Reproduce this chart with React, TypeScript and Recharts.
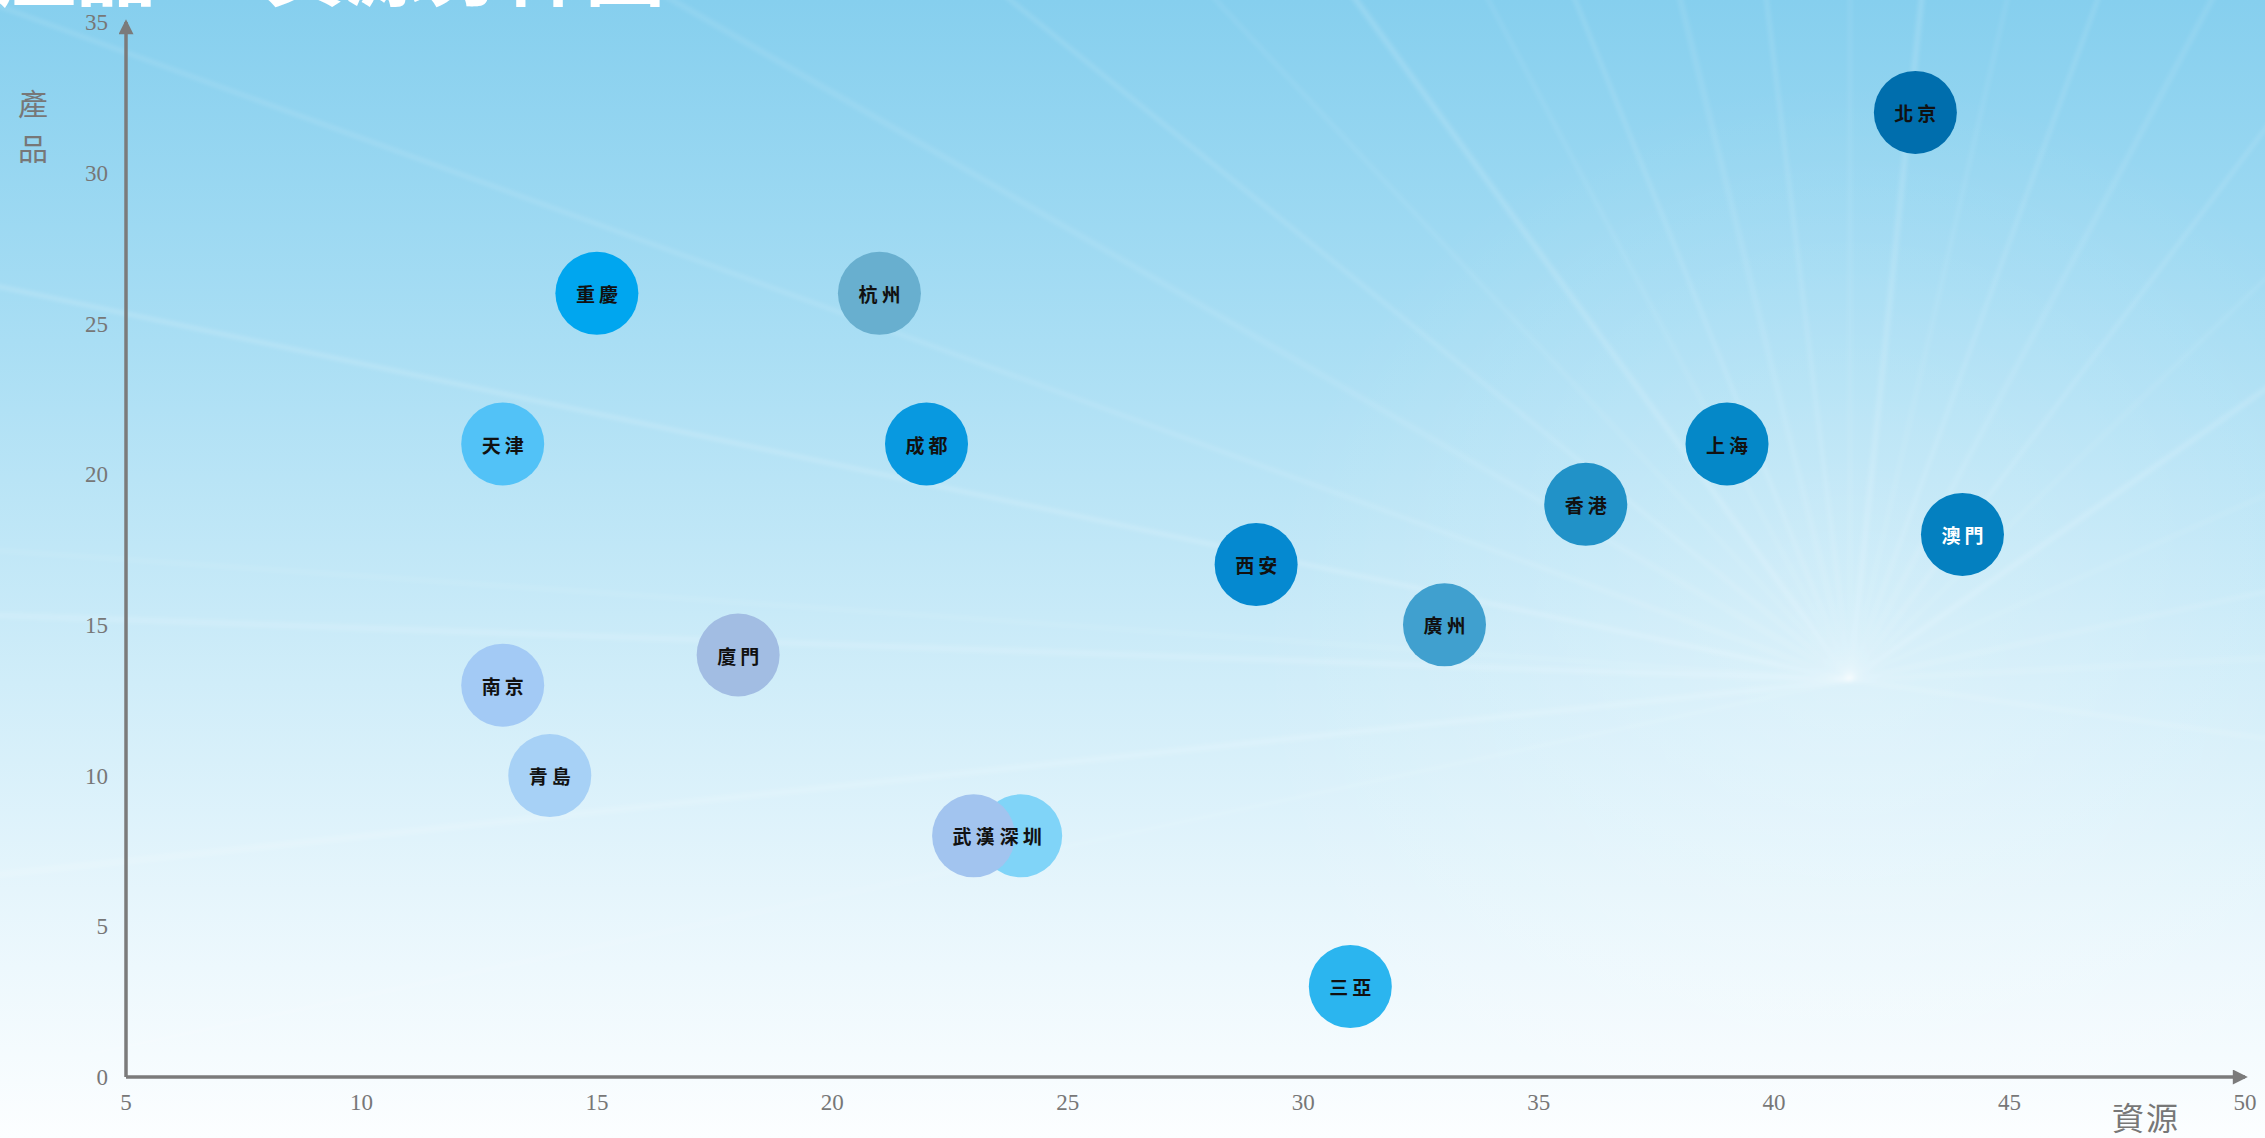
import { ScatterChart, Scatter, XAxis, YAxis, Cell } from "recharts";

// 城市 / 資源 (x) / 產品 (y)
const CITIES = ["北京", "重慶", "杭州", "天津", "成都", "上海", "香港", "澳門", "西安", "廣州", "廈門", "南京", "青島", "深圳", "武漢", "三亞"];
const RESOURCES = [43, 15, 21, 13, 22, 39, 36, 44, 29, 33, 18, 13, 14, 24, 23, 31];
const PRODUCTS = [32, 26, 26, 21, 21, 21, 19, 18, 17, 15, 14, 13, 10, 8, 8, 3];
const X_TICKS = [5, 10, 15, 20, 25, 30, 35, 40, 45, 50];
const Y_TICKS = [0, 5, 10, 15, 20, 25, 30, 35];

const COLORS = ["#006ead", "#00a6ef", "#68afcf", "#52c2f7", "#0899e0", "#0588c8", "#2192c8", "#0480c0", "#0589d0", "#40a0cf", "#a2bde3", "#a3caf5", "#a7d1f6", "#80d4f8", "#a2c4ef", "#2bb5ef"];
const WHITE_TEXT = ["澳門"];

// decorative light rays behind the plot
const RAY_ANGLES = [-178, -168, -160, -150, -141, -133, -126, -118, -112, -104, -97, -90, -84, -77, -70, -62, -53, -44, -35, -24, -12, -3, 8, 168, 174, 184, 192];

const data = CITIES.map((name, i) => ({ name, x: RESOURCES[i], y: PRODUCTS[i] }));

const AXIS = "#7b7b7b";
const tickStyle = { fill: "#777777", fontSize: 23, fontFamily: "'Liberation Serif', serif" };

function Bubble(p: any) {
  return <circle cx={p.cx} cy={p.cy} r={41.5} fill={p.fill} />;
}

function Name(p: any) {
  const name = p.payload?.name;
  return (
    <text x={p.cx + 2} y={p.cy} textAnchor="middle" dominantBaseline="central" fontSize={19} fontWeight={700} letterSpacing={4}
      fontFamily="'Noto Sans CJK TC', sans-serif" fill={WHITE_TEXT.includes(name) ? "#ffffff" : "#111111"}>
      {name}
    </text>
  );
}

function Backdrop() {
  const cx = 1850, cy = 680;
  return (
    <svg width={2265} height={1138} style={{ position: "absolute", left: 0, top: 0 }}>
      <defs>
        <linearGradient id="bg" x1="0" y1="0" x2="0" y2="1">
          <stop offset="0" stopColor="#86cfee" />
          <stop offset="0.3" stopColor="#a9def4" />
          <stop offset="0.6" stopColor="#d0edf9" />
          <stop offset="0.85" stopColor="#edf8fd" />
          <stop offset="1" stopColor="#fcfeff" />
        </linearGradient>
        <radialGradient id="glow" cx={cx} cy={cy} r={600} gradientUnits="userSpaceOnUse">
          <stop offset="0" stopColor="#ffffff" stopOpacity={0.25} />
          <stop offset="1" stopColor="#ffffff" stopOpacity={0} />
        </radialGradient>
        <filter id="soft"><feGaussianBlur stdDeviation="2" /></filter>
      </defs>
      <rect width={2265} height={1138} fill="url(#bg)" />
      <rect width={2265} height={1138} fill="url(#glow)" />
      <g filter="url(#soft)" stroke="#ffffff">
        {RAY_ANGLES.map((a, i) => {
          const t = (a * Math.PI) / 180;
          return <line key={i} x1={cx} y1={cy} x2={cx + 3000 * Math.cos(t)} y2={cy + 3000 * Math.sin(t)} strokeWidth={i % 3 === 0 ? 5 : 3} strokeOpacity={i % 2 === 0 ? 0.16 : 0.1} />;
        })}
      </g>
      <marker id="arrowHead" viewBox="0 0 16 16" refX={13} refY={8} markerWidth={16} markerHeight={15} markerUnits="userSpaceOnUse" orient="auto-start-reverse">
        <path d="M0,0 L16,8 L0,16 z" fill={AXIS} />
      </marker>
    </svg>
  );
}

export default function App() {
  return (
    <div style={{ position: "absolute", left: 0, top: 0, width: 2265, height: 1138, overflow: "hidden" }}>
      <Backdrop />
      {/* title is cropped by the top edge, only its lower strokes show */}
      <div style={{ position: "absolute", left: 0, top: 0, width: 900, height: 12, overflow: "hidden" }}>
        <div style={{ position: "absolute", left: -4, top: -77, color: "#ffffff", fontSize: 80, fontWeight: 700, fontFamily: "'Noto Sans CJK TC', sans-serif", whiteSpace: "nowrap", lineHeight: "82px" }}>
          產品 — 資源分佈圖
        </div>
      </div>
      <div style={{ position: "absolute", left: 0, top: 0 }}>
        <ScatterChart width={2265} height={1138} margin={{ top: 22, right: 20, bottom: 21, left: 66 }}>
          <XAxis type="number" dataKey="x" domain={[5, 50]} ticks={X_TICKS} interval={0} allowDataOverflow height={40}
            tickSize={0} tickMargin={17} tickLine={false} tick={tickStyle}
            axisLine={{ stroke: AXIS, strokeWidth: 3.5, markerEnd: "url(#arrowHead)" }} />
          <YAxis type="number" dataKey="y" domain={[0, 35]} ticks={Y_TICKS} interval={0} allowDataOverflow width={60}
            tickSize={0} tickMargin={18} tickLine={false} tick={tickStyle}
            axisLine={{ stroke: AXIS, strokeWidth: 3.5, markerStart: "url(#arrowHead)" }} />
          <Scatter data={data} shape={Bubble} isAnimationActive={false}>
            {data.map((_, i) => <Cell key={i} fill={COLORS[i]} />)}
          </Scatter>
          <Scatter data={data} shape={Name} isAnimationActive={false} />
        </ScatterChart>
      </div>
      <div style={{ position: "absolute", left: 18, top: 80, width: 30, color: "#777777", fontSize: 30, lineHeight: "45px", fontFamily: "'Noto Sans CJK TC', serif", textAlign: "center" }}>
        產<br />品
      </div>
      <div style={{ position: "absolute", left: 2112, top: 1096, color: "#777777", fontSize: 32, lineHeight: "40px", fontFamily: "'Noto Sans CJK TC', serif", letterSpacing: 2 }}>
        資源
      </div>
    </div>
  );
}
